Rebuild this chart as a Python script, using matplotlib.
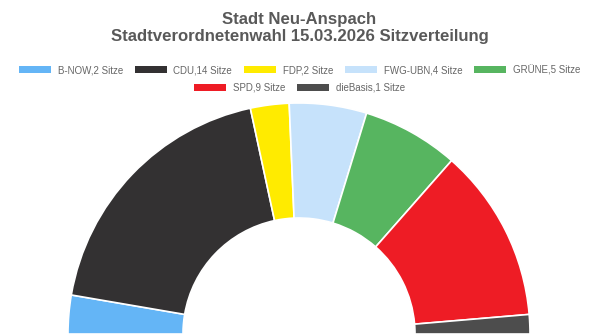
"""Seat distribution chart (half donut) for Stadt Neu-Anspach."""

import matplotlib.pyplot as plt
from matplotlib.patches import Patch

parties = ["B-NOW", "CDU", "FDP", "FWG-UBN", "GRÜNE", "SPD", "dieBasis"]
seats = [2, 14, 2, 4, 5, 9, 1]
colors = ["#64B5F6", "#333132", "#FFEB00", "#C6E2FB", "#57B560", "#EE1C25", "#4D4D4D"]
labels = [f"{p},{s} Sitze" for p, s in zip(parties, seats)]

fig = plt.figure(figsize=(5.99, 3.36), dpi=100)
ax = fig.add_axes([0, 0, 1, 1])

# half donut: add an invisible slice equal to the total
vals = seats + [sum(seats)]
cols = colors + ["none"]
wedges, _ = ax.pie(
    vals,
    colors=cols,
    startangle=180,
    counterclock=False,
    radius=231,
    center=(299, 2),
    wedgeprops=dict(width=115, edgecolor="white", linewidth=1.2),
    frame=True,
)
wedges[-1].set_edgecolor("none")
ax.set_xlim(0, 599)
ax.set_ylim(0, 336)
ax.axis("off")

fig.text(0.5, 0.965, "Stadt Neu-Anspach\nStadtverordnetenwahl 15.03.2026 Sitzverteilung",
         ha="center", va="top", fontsize=12.1, fontweight="bold", color="#595959",
         family="Liberation Sans", linespacing=1.15)

handles = [Patch(facecolor=c, edgecolor="none") for c in colors]
leg_kw = dict(frameon=False, handlelength=3.3, handleheight=0.72,
              handletextpad=0.7, columnspacing=1.2, borderaxespad=0,
              labelcolor="#666666", prop={"family": "Liberation Sans", "size": 7.0})
fig.legend(handles[:5], labels[:5], ncol=5, loc="center",
           bbox_to_anchor=(0.5, 1 - 70 / 336), **leg_kw)
fig.legend(handles[5:], labels[5:], ncol=2, loc="center",
           bbox_to_anchor=(0.5, 1 - 88 / 336), **leg_kw)

plt.savefig("out.png", dpi=100)
